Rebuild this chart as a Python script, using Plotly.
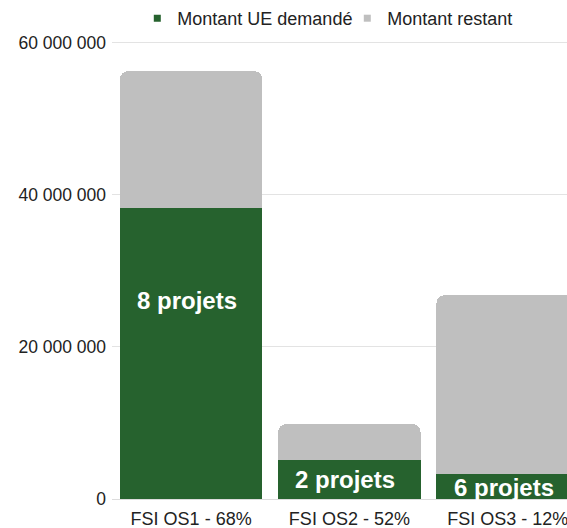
import plotly.graph_objects as go

# ---- data ----
categories = ["FSI OS1 - 68%", "FSI OS2 - 52%", "FSI OS3 - 12%"]
montant_ue_demande = [38.3e6, 5.12e6, 3.24e6]
montant_restant = [18.0e6, 4.73e6, 23.56e6]
nb_projets = [8, 2, 6]
y_ticks = [0, 20e6, 40e6, 60e6]

GREEN = "#26622e"
GRAY = "#bfbfbf"
FONT = "Liberation Sans, Arial, sans-serif"
TXT = "#222222"

fig = go.Figure()
fig.add_trace(go.Bar(x=categories, y=montant_ue_demande, name="Montant UE demandé",
                     marker=dict(color=GREEN, line=dict(width=0)), showlegend=False,
                     hoverinfo="skip"))
fig.add_trace(go.Bar(x=categories, y=montant_restant, name="Montant restant",
                     marker=dict(color=GRAY, line=dict(width=0)), showlegend=False,
                     hoverinfo="skip"))
# legend entries (small square swatches)
for nm, col in [("Montant UE demandé", GREEN), ("Montant restant", GRAY)]:
    fig.add_trace(go.Scatter(x=[None], y=[None], mode="markers", name=nm,
                             marker=dict(symbol="square", size=7, color=col)))

# data labels
label_y = [26.1e6, 2.56e6, 1.51e6]
for cat, n, yy in zip(categories, nb_projets, label_y):
    fig.add_annotation(x=cat, y=yy, text=f"{n} projets", showarrow=False,
                       xshift=-4, font=dict(family=FONT, size=24, color="white", weight="bold"))

fig.update_layout(
    width=567, height=528,
    barmode="stack", bargap=0.1, barcornerradius=8,
    plot_bgcolor="white", paper_bgcolor="white",
    margin=dict(l=112, r=0, t=40, b=29, pad=0),
    separators=", ",
    font=dict(family=FONT, size=18, color=TXT),
    legend=dict(orientation="h", x=0.0556, xanchor="left", y=1.048, yanchor="middle",
                traceorder="normal", entrywidth=165, entrywidthmode="pixels",
                font=dict(family=FONT, size=18, color=TXT), itemwidth=30,
                bgcolor="rgba(0,0,0,0)"),
    xaxis=dict(range=[-0.5, 2.375], showgrid=False, showline=False, ticks="",
               ticklabelstandoff=7,
               tickfont=dict(family=FONT, size=18, color=TXT), automargin=False),
    yaxis=dict(range=[0, 60.26e6], tickvals=y_ticks, tickformat=",d",
               showgrid=True, gridcolor="#e3e3e3", gridwidth=1,
               zeroline=True, zerolinecolor="#dcdcdc", zerolinewidth=1,
               showline=False, ticks="", ticklabelstandoff=5,
               tickfont=dict(family=FONT, size=17.5, color=TXT),
               automargin=False),
)

fig.write_html("out.html", post_script="document.body.style.margin='0';",
               config={"displayModeBar": False})
